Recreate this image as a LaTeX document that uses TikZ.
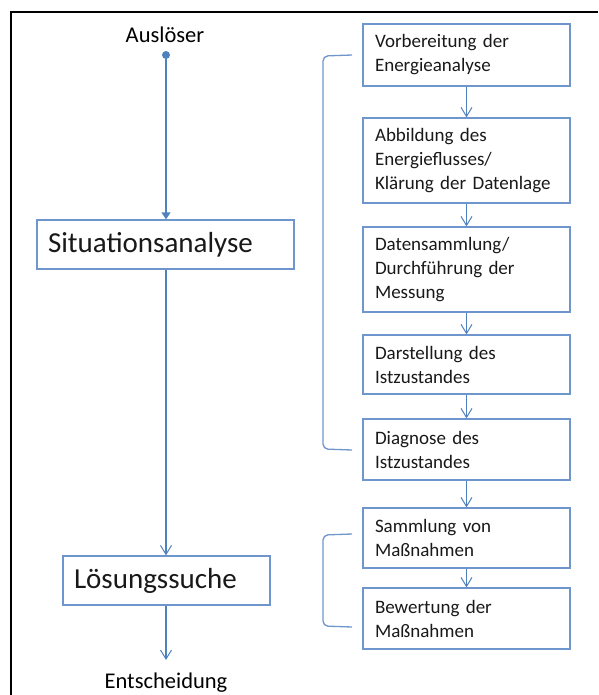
\documentclass[tikz,border=0pt]{standalone}
\usepackage{fontspec}
\setmainfont{Carlito}
\usetikzlibrary{arrows.meta}
\definecolor{flowblue}{RGB}{79,129,189}
\definecolor{boxblue}{RGB}{110,150,205}
\tikzset{
  px/.style={x=1pt,y=-1pt},
  stepbox/.style={draw=boxblue,line width=1.3pt,fill=white,minimum width=207pt,
    text width=183pt,inner xsep=12pt,inner ysep=0pt,align=left,
    font=\fontsize{19}{24}\selectfont,text=black!90},
  bigbox/.style={draw=boxblue,line width=1.3pt,fill=white,minimum height=49pt,
    inner xsep=11pt,align=left,font=\fontsize{29}{34}\selectfont,text=black!90},
  label/.style={font=\fontsize{22.5}{26}\selectfont,inner sep=0pt,text=black},
  flow/.style={draw=flowblue,line width=1.3pt},
  openarrow/.style={flow,-{Straight Barb[length=9pt,width=11pt,line width=1pt]}},
  fillarrow/.style={flow,-{Triangle[length=7pt,width=9pt]}},
  brace/.style={draw=boxblue,line width=1.3pt,rounded corners=5pt},
}
\begin{document}
\begin{tikzpicture}[px]
\useasboundingbox (0,0) rectangle (598,695);
% frame
\draw[line width=2pt,black] (11,695) -- (11,12) -- (598,12);

% left column
\node[label,anchor=base] (ausl) at (165,43) {Auslöser};
\node[circle,fill=flowblue,inner sep=0pt,minimum size=8pt] (dot) at (166,55) {};
\node[bigbox,minimum width=257pt,text width=235pt] (sit) at (165.5,244.5) {Situationsanalyse};
\node[bigbox,minimum width=207pt,text width=185pt] (loes) at (166.5,580.5) {Lösungssuche};
\node[label,anchor=base] (ent) at (166,688) {Entscheidung};
\coordinate (entin) at (166,660);

\draw[fillarrow] (dot) -- (dot |- sit.north);
\draw[openarrow] (dot |- sit.south) -- (dot |- loes.north);
\draw[openarrow] (dot |- loes.south) -- (entin);

% right column
\node[stepbox,minimum height=62pt] (b1) at (466.5,55) {Vorbereitung der\\Energieanalyse};
\node[stepbox,minimum height=85pt] (b2) at (466.5,160.5) {Abbildung des\\Energieflusses/\\Klärung der Datenlage};
\node[stepbox,minimum height=85pt] (b3) at (466.5,269.5) {Datensammlung/\\Durchführung der\\Messung};
\node[stepbox,minimum height=59pt] (b4) at (466.5,364.5) {Darstellung des\\Istzustandes};
\node[stepbox,minimum height=61pt] (b5) at (466.5,449.5) {Diagnose des\\Istzustandes};
\node[stepbox,minimum height=60pt] (b6) at (466.5,538) {Sammlung von\\Maßnahmen};
\node[stepbox,minimum height=61pt] (b7) at (466.5,618.5) {Bewertung der\\Maßnahmen};

\draw[openarrow] (b1.south) -- (b2.north);
\draw[openarrow] (b2.south) -- (b3.north);
\draw[openarrow] (b3.south) -- (b4.north);
\draw[openarrow] (b4.south) -- (b5.north);
\draw[openarrow] (b5.south) -- (b6.north);
\draw[openarrow] (b6.south) -- (b7.north);

% brackets
\coordinate (br1a) at (352,55);
\coordinate (br1b) at (352,450);
\coordinate (br2a) at (352,534);
\coordinate (br2b) at (352,627);
\draw[brace] (br1a) -- (323,56) -- (323,449) -- (br1b);
\draw[brace] (br2a) -- (323,535) -- (323,626) -- (br2b);
\end{tikzpicture}
\end{document}
